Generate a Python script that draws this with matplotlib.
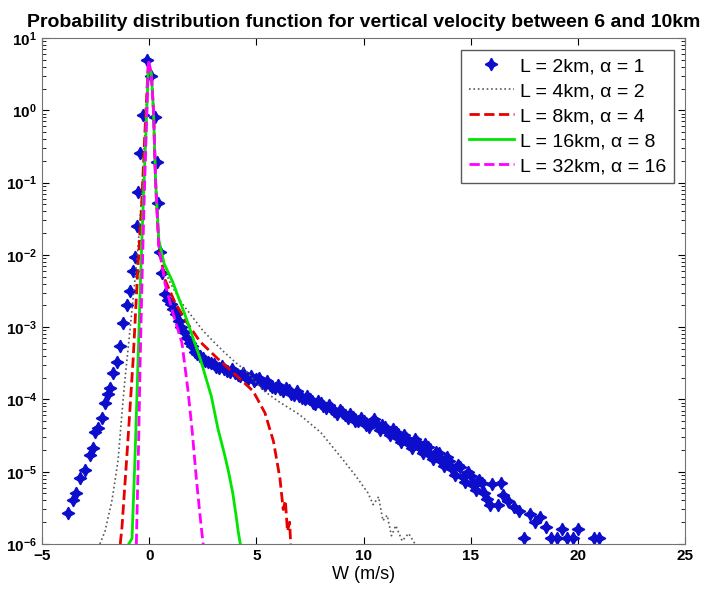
import numpy as np
import matplotlib.pyplot as plt
from matplotlib.ticker import LogLocator, NullFormatter

plt.rcParams['font.family'] = ['Liberation Sans', 'DejaVu Sans']

# L = 2km (scatter of PDF bins)
w_2km = [-3.77, -3.55, -3.40, -3.23, -2.99, -2.76, -2.62, -2.53, -2.38, -2.20,
         -2.06, -1.93, -1.83, -1.69, -1.50, -1.36, -1.22, -1.05, -0.89, -0.76,
         -0.66, -0.57, -0.52, -0.43, -0.29, -0.10, 0.10, 0.27, 0.37, 0.41,
         0.51, 0.60, 0.75, 0.88, 1.00, 1.12, 1.25, 1.38, 1.50, 1.62, 1.75, 1.88,
         2.00, 2.12, 2.25, 2.38, 2.50, 2.62, 2.75, 2.88, 3.00, 3.12, 3.25, 3.38,
         3.50, 3.62, 3.75, 3.88, 4.00, 4.12, 4.25, 4.38, 4.50, 4.62, 4.75, 4.88,
         5.00, 5.12, 5.25, 5.38, 5.50, 5.62, 5.75, 5.88, 6.00, 6.12, 6.25, 6.38,
         6.50, 6.62, 6.75, 6.88, 7.00, 7.12, 7.25, 7.38, 7.50, 7.62, 7.75, 7.88,
         8.00, 8.12, 8.25, 8.38, 8.50, 8.62, 8.75, 8.88, 9.00, 9.12, 9.25, 9.38,
         9.50, 9.62, 9.75, 9.88, 10.00, 10.12, 10.25, 10.38, 10.50, 10.62, 10.75, 10.88,
         11.00, 11.12, 11.25, 11.38, 11.50, 11.62, 11.75, 11.88, 12.00, 12.12, 12.25, 12.38,
         12.50, 12.62, 12.75, 12.88, 13.00, 13.12, 13.25, 13.38, 13.50, 13.62, 13.75, 13.88,
         14.00, 14.12, 14.25, 14.38, 14.50, 14.62, 14.75, 14.88, 15.00, 15.12, 15.25, 15.38,
         15.50, 15.62, 15.75, 15.88, 16.00, 16.25, 16.40, 16.50, 16.75, 17.00, 17.25, 17.50,
         17.75, 18.00, 18.25, 18.50, 18.75, 19.00, 19.25, 19.50, 19.75, 20.00, 20.75, 21.00]
p_2km = [2.7e-6, 4.1e-6, 5.0e-6, 8.1e-6, 1.05e-5, 1.7e-5, 2.1e-5, 3.5e-5, 4.0e-5, 5.5e-5,
         8.9e-5, 1.2e-4, 1.45e-4, 2.3e-4, 3.3e-4, 5.4e-4, 1.15e-3, 2.0e-3, 3.2e-3, 6.0e-3,
         9.3e-3, 2.5e-2, 7.4e-2, 2.6e-1, 8.5e-1, 5.0, 3.0, 8.1e-1, 1.9e-1, 5.2e-2,
         1.1e-2, 5.6e-3, 2.9e-3, 2.4e-3, 2.1e-3, 1.8e-3, 1.5e-3, 1.2e-3, 1.0e-3, 8.5e-4, 7.0e-4, 6.0e-4,
         5.4e-4, 4.6e-4, 4.3e-4, 4.0e-4, 3.8e-4, 3.4e-4, 3.3e-4, 3.2e-4, 3.1e-4, 2.8e-4, 2.7e-4, 2.9e-4,
         2.6e-4, 2.5e-4, 2.4e-4, 2.6e-4, 2.3e-4, 2.2e-4, 2.1e-4, 2.3e-4, 2.0e-4, 1.9e-4, 2.1e-4, 1.8e-4,
         1.9e-4, 2.0e-4, 1.7e-4, 1.6e-4, 1.8e-4, 1.6e-4, 1.5e-4, 1.45e-4, 1.6e-4, 1.4e-4, 1.3e-4, 1.45e-4,
         1.35e-4, 1.2e-4, 1.15e-4, 1.3e-4, 1.1e-4, 1.05e-4, 1.0e-4, 1.1e-4, 1.0e-4, 9.0e-5, 8.6e-5, 9.6e-5,
         9.0e-5, 8.0e-5, 7.5e-5, 8.3e-5, 7.6e-5, 7.0e-5, 6.3e-5, 7.2e-5, 6.6e-5, 6.0e-5, 5.5e-5, 6.2e-5,
         5.8e-5, 5.1e-5, 5.0e-5, 5.6e-5, 5.0e-5, 4.4e-5, 4.1e-5, 4.8e-5, 5.3e-5, 4.5e-5, 3.8e-5, 4.4e-5,
         4.2e-5, 3.5e-5, 3.2e-5, 3.9e-5, 3.5e-5, 2.9e-5, 2.6e-5, 3.2e-5, 2.9e-5, 2.4e-5, 2.1e-5, 2.8e-5,
         2.6e-5, 2.1e-5, 1.8e-5, 2.4e-5, 2.2e-5, 1.7e-5, 1.5e-5, 1.9e-5, 1.8e-5, 1.4e-5, 1.2e-5, 1.6e-5,
         1.4e-5, 1.1e-5, 9.0e-6, 1.25e-5, 1.15e-5, 8.5e-6, 7.2e-6, 1.0e-5, 8.8e-6, 6.5e-6, 5.5e-6, 7.8e-6,
         7.0e-6, 5.0e-6, 4.2e-6, 3.5e-6, 6.8e-6, 3.5e-6, 7.0e-6, 4.8e-6, 3.9e-6, 3.3e-6, 2.9e-6, 1.2e-6,
         2.6e-6, 2.0e-6, 2.4e-6, 1.7e-6, 1.2e-6, 1.2e-6, 1.6e-6, 1.2e-6, 1.2e-6, 1.6e-6, 1.2e-6, 1.2e-6]

# L = 4km
w_4km = [-2.30, -2.06, -1.73, -1.45, -1.27, -1.13, -0.95, -0.75, -0.55, -0.35,
         -0.20, -0.05, 0.10, 0.20, 0.30, 0.45, 0.70, 1.00, 1.50, 2.00,
         2.50, 3.00, 3.50, 4.00, 4.50, 5.30, 6.00, 7.00, 8.00, 9.05,
         9.60, 10.20, 10.45, 10.70, 10.90, 11.10, 11.30, 11.50, 11.80, 12.10,
         12.40]
p_4km = [1.0e-6, 1.5e-6, 4.1e-6, 1.45e-5, 6.5e-5, 1.9e-4, 6.3e-4, 2.5e-3, 1.0e-2, 6.3e-2,
         5.0e-1, 4.0, 3.2, 1.0, 1.0e-1, 1.3e-2, 6.3e-3, 4.0e-3, 2.2e-3, 1.4e-3,
         9.0e-4, 6.3e-4, 4.5e-4, 3.3e-4, 2.5e-4, 1.35e-4, 9.5e-5, 6.2e-5, 3.5e-5, 1.45e-5,
         9.0e-6, 5.1e-6, 3.5e-6, 4.5e-6, 2.1e-6, 2.5e-6, 1.3e-6, 1.8e-6, 1.1e-6, 1.4e-6,
         1.0e-6]

# L = 8km
w_8km = [-1.35, -1.27, -1.00, -0.75, -0.55, -0.35, -0.20, -0.05, 0.10, 0.20,
         0.30, 0.45, 0.74, 1.20, 1.77, 2.37, 3.31, 4.10, 4.85, 5.40,
         5.80, 6.10, 6.25, 6.35, 6.45, 6.55, 6.60]
p_8km = [1.0e-6, 1.7e-6, 2.5e-5, 3.5e-4, 5.0e-3, 5.0e-2, 5.0e-1, 4.0, 3.2, 1.0,
         1.0e-1, 1.3e-2, 4.5e-3, 2.2e-3, 1.15e-3, 6.3e-4, 3.4e-4, 2.1e-4, 1.3e-4, 6.5e-5,
         2.6e-5, 8.0e-6, 3.0e-6, 4.0e-6, 1.5e-6, 2.0e-6, 1.0e-6]

# L = 16km
w_16km = [-0.95, -0.80, -0.65, -0.52, -0.40, -0.28, -0.15, -0.03, 0.10, 0.20,
          0.30, 0.45, 0.70, 1.10, 1.70, 2.40, 2.90, 3.20, 3.50, 3.70,
          3.90, 4.05, 4.15, 4.25]
p_16km = [1.0e-6, 1.2e-6, 2.0e-5, 3.5e-4, 5.0e-3, 5.0e-2, 5.0e-1, 4.5, 3.2, 1.0,
          1.0e-1, 1.6e-2, 7.5e-3, 4.2e-3, 1.4e-3, 3.5e-4, 1.1e-4, 4.0e-5, 1.8e-5, 1.0e-5,
          5.0e-6, 2.5e-6, 1.5e-6, 1.0e-6]

# L = 32km
w_32km = [-0.60, -0.50, -0.42, -0.33, -0.24, -0.14, -0.03, 0.10, 0.20, 0.30,
          0.45, 0.74, 1.10, 1.53, 1.80, 2.00, 2.20, 2.37, 2.45, 2.52]
p_32km = [1.0e-6, 2.0e-5, 3.5e-4, 5.0e-3, 5.0e-2, 5.0e-1, 5.0, 3.2, 1.0, 1.0e-1,
          1.3e-2, 4.0e-3, 1.6e-3, 6.0e-4, 1.4e-4, 3.8e-5, 8.0e-6, 2.5e-6, 1.5e-6, 1.0e-6]

labels = ['L = 2km, \u03b1 = 1', 'L = 4km, \u03b1 = 2', 'L = 8km, \u03b1 = 4',
          'L = 16km, \u03b1 = 8', 'L = 32km, \u03b1 = 16']

fig = plt.figure(figsize=(7.19, 5.94), dpi=100)
ax = fig.add_axes([0.0584, 0.0842, 0.8946, 0.8518])

ax.plot(w_2km, p_2km, linestyle='none', marker=(4, 1, 0), markersize=9, color=(0.05, 0.05, 0.8),
        label=labels[0])
ax.plot(w_4km, p_4km, ':', color=(0.35, 0.35, 0.35), linewidth=1.2, label=labels[1])
ax.plot(w_8km, p_8km, '--', color=(0.9, 0, 0), linewidth=2, label=labels[2])
ax.plot(w_16km, p_16km, '-', color=(0, 0.9, 0), linewidth=2, label=labels[3])
ax.plot(w_32km, p_32km, '--', color=(1, 0, 1), linewidth=2, label=labels[4])

ax.set_yscale('log')
ax.set_xlim(-5, 25)
ax.set_ylim(1e-6, 10)
ax.set_xticks([-5, 0, 5, 10, 15, 20, 25])
ax.yaxis.set_major_locator(LogLocator(base=10, numticks=10))
ax.yaxis.set_minor_locator(LogLocator(base=10, subs=np.arange(2, 10), numticks=10))
ax.yaxis.set_minor_formatter(NullFormatter())
ax.tick_params(which='both', direction='in', top=True, right=True, labelsize=11, colors='black')
ax.tick_params(which='major', length=5)
ax.tick_params(which='minor', length=3)
for t in ax.get_xticklabels() + ax.get_yticklabels():
    t.set_fontweight('bold')
for s in ax.spines.values():
    s.set_color((0.45, 0.45, 0.45))

ax.set_xlabel('W (m/s)', fontsize=13, labelpad=2)
ax.set_title('Probability distribution function for vertical velocity between 6 and 10km',
             fontsize=14, fontweight='bold', pad=8)
leg = ax.legend(loc='upper right', fontsize=14, frameon=True, fancybox=False,
                handlelength=2.3, handletextpad=0.3, borderpad=0.4, borderaxespad=0.6,
                labelspacing=0.38, framealpha=1)
leg.get_frame().set_edgecolor((0.35, 0.35, 0.35))

fig.savefig('out.png', dpi=100)
